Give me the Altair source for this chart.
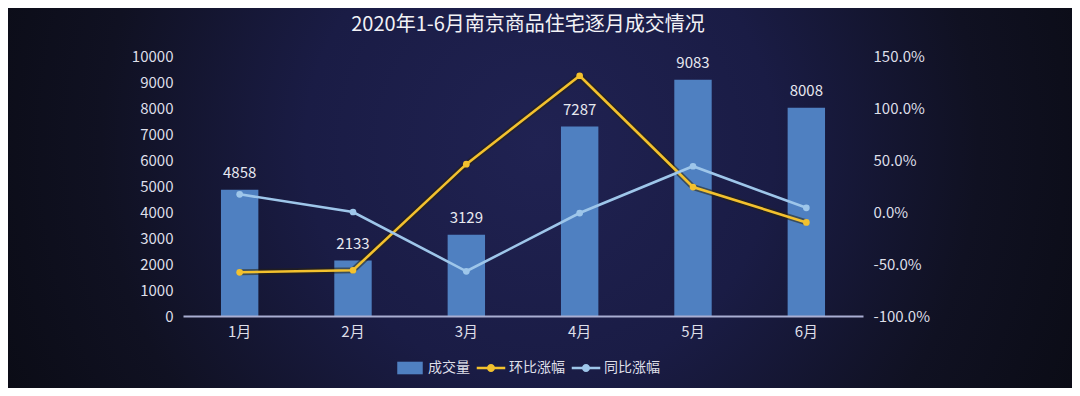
import altair as alt
import pandas as pd

# ---- data ----
months = ["1月", "2月", "3月", "4月", "5月", "6月"]
volume = [4858, 2133, 3129, 7287, 9083, 8008]
mom_change = [-0.58, -0.56, 0.46, 1.31, 0.24, -0.10]   # 环比涨幅
yoy_change = [0.17, 0.00, -0.57, -0.01, 0.44, 0.04]    # 同比涨幅

series_names = ["成交量", "环比涨幅", "同比涨幅"]
series_colors = ["#4f80c1", "#f3c12e", "#9ec6ea"]
left_ticks = [0, 1000, 2000, 3000, 4000, 5000, 6000, 7000, 8000, 9000, 10000]
right_ticks = [-1.0, -0.5, 0.0, 0.5, 1.0, 1.5]
title_text = "2020年1-6月南京商品住宅逐月成交情况"

FONT = "Noto Sans CJK SC"
TXT = "#dedfe8"

bar_df = pd.DataFrame({"month": months, "volume": volume, "series": "成交量"})
line_df = pd.concat([
    pd.DataFrame({"month": months, "value": mom_change, "series": "环比涨幅"}),
    pd.DataFrame({"month": months, "value": yoy_change, "series": "同比涨幅"}),
], ignore_index=True)

W, H = 680, 260
PAD = {"left": 175, "top": 48, "right": 209, "bottom": 72}

x_enc = alt.X("month:N", sort=months, title=None,
              scale=alt.Scale(paddingInner=0.67, paddingOuter=0.335),
              axis=alt.Axis(labelAngle=0, labelColor=TXT, labelFont=FONT, labelFontSize=15,
                            labelPadding=8, ticks=False, domainColor="#a9aed2",
                            domainWidth=2, grid=False, zindex=1))

color_scale = alt.Scale(domain=series_names, range=series_colors)

rect_path = "M-0.85,-0.42H0.85V0.42H-0.85Z"
line_path = ("M-0.95,-0.09H0.95V0.09H-0.95Z "
             "M-0.27,0A0.27,0.27,0,1,1,0.27,0A0.27,0.27,0,1,1,-0.27,0Z")
sym_expr = f"datum.value == '成交量' ? '{rect_path}' : '{line_path}'"

# background gradient panel
bg = alt.Chart(pd.DataFrame({"k": [0]})).mark_rect(
    fill={"gradient": "radial",
          "stops": [{"offset": 0, "color": "#202252"},
                    {"offset": 0.4, "color": "#1a1c45"},
                    {"offset": 0.75, "color": "#101122"},
                    {"offset": 1, "color": "#0b0c16"}],
          "x1": 0.5, "y1": 0.45, "r1": 0, "x2": 0.5, "y2": 0.45, "r2": 0.55}
).encode(x=alt.value(-PAD["left"]), x2=alt.value(W + PAD["right"]),
         y=alt.value(-PAD["top"]), y2=alt.value(H + PAD["bottom"]))

y_left = alt.Y("volume:Q", title=None,
               scale=alt.Scale(domain=[0, 10000], nice=False),
               axis=alt.Axis(values=left_ticks, format="d", labelOverlap=False,
                             labelColor=TXT, labelFont=FONT,
                             labelFontSize=15, labelPadding=10, ticks=False,
                             domain=False, grid=False, zindex=1))

bars = alt.Chart(bar_df).mark_bar().encode(
    x=x_enc, y=y_left,
    color=alt.Color("series:N", scale=color_scale, title=None,
                    legend=alt.Legend(orient="none", direction="horizontal",
                                      legendX=212, legendY=297,
                                      symbolType={"expr": sym_expr}, symbolSize=900,
                                      symbolStrokeWidth=0, labelColor=TXT, labelFont=FONT,
                                      labelFontSize=14, labelOffset=3, columnPadding=6))
)
labels = alt.Chart(bar_df).mark_text(
    baseline="alphabetic", dy=-12, fontSize=15, font=FONT, color="#e8e9f0"
).encode(x=x_enc, y=y_left, text=alt.Text("volume:Q"))

left = alt.layer(bars, labels)

y_right = alt.Y("value:Q", title=None,
                scale=alt.Scale(domain=[-1.0, 1.5], nice=False),
                axis=alt.Axis(orient="right", values=right_ticks,
                              labelExpr="replace(format(datum.value, '.1%'), '−', '-')",
                              labelOverlap=False,
                              labelColor=TXT, labelFont=FONT, labelFontSize=15,
                              labelPadding=10, ticks=False, domain=False, grid=False,
                              zindex=1))

shadow = alt.Chart(line_df).transform_filter(alt.datum.series == "环比涨幅").mark_line(
    strokeWidth=6, color="#2a220c", opacity=0.55
).encode(x=x_enc, y=y_right)
lines = alt.Chart(line_df).mark_line(strokeWidth=2.6).encode(
    x=x_enc, y=y_right,
    color=alt.Color("series:N", scale=color_scale, legend=None)
)
points = alt.Chart(line_df).mark_circle(size=45, opacity=1).encode(
    x=x_enc, y=y_right,
    color=alt.Color("series:N", scale=color_scale, legend=None)
)
right = alt.layer(shadow, lines, points)

chart = alt.layer(bg, left, right).resolve_scale(y="independent").properties(
    width=W, height=H, padding=PAD, autosize=alt.AutoSizeParams(type="none"),
    title=alt.TitleParams(title_text, font=FONT, fontSize=20, fontWeight="normal",
                          color="#f2f2f6", anchor="middle", dx=5, offset=-27),
    background="#0c0d18"
).configure_view(stroke=None)

chart.save("out.html", embed_options={"renderer": "svg", "actions": False})
